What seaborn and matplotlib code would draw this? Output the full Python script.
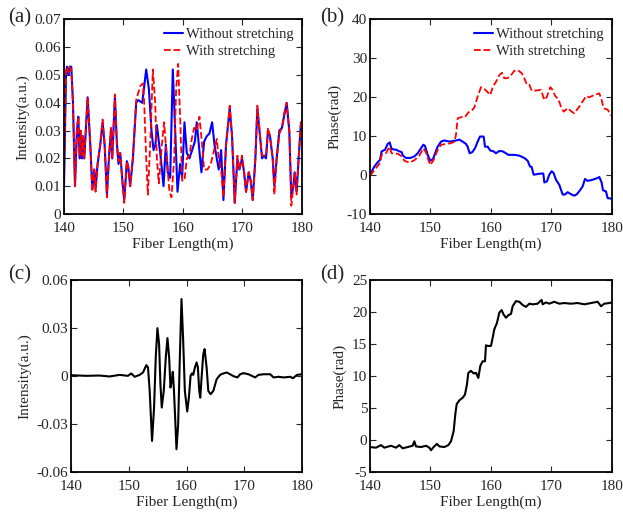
import numpy as np
import matplotlib
matplotlib.use("Agg")
import matplotlib.pyplot as plt
import seaborn as sns
from matplotlib.ticker import FuncFormatter

# (a) intensity, without / with stretching
a_blue_x = [140.0, 140.34, 140.5, 140.78, 140.95, 141.23, 141.51, 141.85, 142.18, 142.41, 142.63, 142.85, 143.02,
            143.19, 143.41, 143.97, 144.42, 144.76, 145.09, 145.31, 145.65, 146.1, 146.49, 146.83, 147.22, 147.55,
            147.89, 148.11, 148.56, 148.9, 149.17, 149.45, 149.85, 150.13, 150.57, 150.8, 151.13, 151.58, 152.14,
            152.48, 153.15, 153.82, 154.27, 154.71, 155.05, 155.38, 155.61, 155.89, 156.28, 156.73, 157.12, 157.45,
            157.85, 158.29, 158.69, 159.08, 159.52, 159.86, 160.25, 160.64, 161.09, 161.54, 161.99, 162.32, 162.66,
            163.1, 163.55, 164.0, 164.45, 164.9, 165.29, 165.68, 166.01, 166.41, 166.8, 167.24, 167.86, 168.25,
            168.7, 169.15, 169.48, 169.93, 170.27, 170.6, 171.05, 171.38, 171.72, 172.17, 172.5, 172.95, 173.29,
            173.62, 173.96, 174.29, 174.63, 175.08, 175.36, 175.75, 176.2, 176.64, 176.98, 177.43, 177.87, 178.21,
            178.55, 178.77, 179.1, 179.44, 179.83, 180.0]
a_blue_y = [0.010, 0.050, 0.053, 0.050, 0.053, 0.053, 0.040, 0.010, 0.030, 0.035, 0.020, 0.029, 0.020,
            0.028, 0.020, 0.042, 0.025, 0.009, 0.016, 0.009, 0.018, 0.025, 0.033, 0.025, 0.007, 0.020,
            0.030, 0.020, 0.042, 0.025, 0.018, 0.022, 0.011, 0.005, 0.019, 0.017, 0.010, 0.020, 0.040,
            0.041, 0.040, 0.052, 0.045, 0.030, 0.023, 0.025, 0.032, 0.027, 0.020, 0.010, 0.025, 0.015,
            0.013, 0.052, 0.030, 0.008, 0.018, 0.013, 0.033, 0.022, 0.020, 0.023, 0.026, 0.033, 0.025,
            0.015, 0.026, 0.028, 0.029, 0.033, 0.025, 0.020, 0.016, 0.023, 0.005, 0.025, 0.038, 0.028,
            0.004, 0.020, 0.016, 0.020, 0.015, 0.008, 0.015, 0.012, 0.005, 0.020, 0.038, 0.028, 0.020,
            0.021, 0.020, 0.030, 0.028, 0.020, 0.010, 0.020, 0.030, 0.031, 0.035, 0.040, 0.030, 0.006,
            0.010, 0.015, 0.008, 0.020, 0.033, 0.030]

a_red_x = [140.0, 140.34, 140.5, 140.78, 140.95, 141.23, 141.51, 141.85, 142.18, 142.41, 142.63, 142.85, 143.02,
           143.19, 143.41, 143.97, 144.42, 144.76, 145.09, 145.31, 145.65, 146.1, 146.49, 146.83, 147.22, 147.55,
           147.89, 148.11, 148.56, 148.9, 149.17, 149.45, 149.85, 150.13, 150.57, 150.8, 151.13, 151.58, 152.14,
           152.81, 153.26, 153.48, 153.82, 154.1, 154.49, 154.94, 155.33, 155.61, 155.94, 156.45, 156.84, 157.28,
           157.73, 158.07, 158.52, 158.85, 159.19, 159.52, 159.86, 160.25, 160.64, 161.09, 161.48, 161.87, 162.32,
           162.77, 163.21, 163.55, 164.11, 164.67, 165.23, 165.68, 166.01, 166.41, 166.8, 167.24, 167.86, 168.25,
           168.7, 169.15, 169.48, 169.93, 170.27, 170.6, 171.05, 171.38, 171.72, 172.17, 172.5, 172.95, 173.29,
           173.62, 173.96, 174.29, 174.63, 175.08, 175.36, 175.75, 176.2, 176.64, 176.98, 177.43, 177.87, 178.21,
           178.55, 178.77, 179.1, 179.44, 179.83, 180.0]
a_red_y = [0.012, 0.051, 0.053, 0.051, 0.053, 0.052, 0.040, 0.010, 0.031, 0.035, 0.021, 0.030, 0.021,
           0.028, 0.020, 0.042, 0.025, 0.008, 0.016, 0.008, 0.018, 0.025, 0.034, 0.025, 0.006, 0.020,
           0.031, 0.020, 0.043, 0.025, 0.019, 0.022, 0.011, 0.004, 0.019, 0.017, 0.010, 0.020, 0.041,
           0.046, 0.047, 0.040, 0.020, 0.007, 0.025, 0.052, 0.040, 0.020, 0.011, 0.025, 0.033, 0.020,
           0.008, 0.006, 0.020, 0.045, 0.054, 0.035, 0.012, 0.012, 0.020, 0.021, 0.027, 0.031, 0.030,
           0.035, 0.025, 0.016, 0.016, 0.018, 0.023, 0.027, 0.020, 0.016, 0.006, 0.025, 0.039, 0.028,
           0.004, 0.021, 0.016, 0.021, 0.015, 0.008, 0.015, 0.012, 0.005, 0.020, 0.039, 0.028, 0.021,
           0.021, 0.021, 0.031, 0.028, 0.020, 0.007, 0.020, 0.029, 0.031, 0.036, 0.040, 0.030, 0.003,
           0.010, 0.015, 0.007, 0.020, 0.033, 0.030]

# (b) phase, without / with stretching
b_blue_x = [140.0, 140.72, 141.27, 141.65, 141.93, 142.48, 142.92, 143.25, 143.58, 144.35, 144.85, 145.23, 145.45,
            145.95, 146.67, 147.33, 147.88, 148.43, 148.82, 149.09, 149.53, 149.97, 150.41, 150.74, 151.18, 151.74,
            152.29, 153.11, 153.94, 154.77, 155.32, 155.87, 156.14, 156.47, 156.91, 157.36, 157.8, 158.18, 158.79,
            159.01, 159.45, 159.89, 160.44, 160.83, 161.38, 161.93, 162.48, 162.87, 163.86, 164.68, 165.51, 166.06,
            166.45, 166.72, 167.05, 168.26, 168.65, 168.82, 169.26, 169.64, 170.03, 170.36, 170.74, 171.29, 171.85,
            172.23, 172.67, 173.33, 173.77, 174.21, 174.77, 175.15, 175.54, 175.98, 176.8, 177.52, 177.91, 178.29,
            178.51, 179.01, 179.28, 180.0]
b_blue_y = [0.1, 2.2, 3.3, 3.9, 6.1, 6.5, 8.0, 8.4, 6.7, 6.5, 6.1, 5.9, 5.0,
            4.4, 4.4, 4.8, 5.6, 6.9, 7.8, 7.5, 5.2, 3.7, 4.1, 5.5, 7.3, 8.6,
            8.9, 8.6, 8.8, 9.1, 8.6, 8.0, 7.3, 5.6, 5.9, 6.9, 8.6, 9.9, 9.9,
            7.3, 7.3, 6.3, 6.1, 5.6, 6.2, 6.1, 5.6, 5.2, 5.2, 5.0, 4.4, 3.7,
            2.2, 2.1, 0.1, 0.4, 0.4, -1.9, -1.6, 0.1, 1.0, 0.5, -1.2, -2.5, -5.0,
            -5.0, -4.4, -5.0, -5.3, -4.9, -3.8, -2.9, -1.0, -1.5, -1.2, -0.8, -0.5, -1.9,
            -3.9, -4.2, -5.9, -6.1]

b_red_x = [140.0, 140.99, 141.65, 141.93, 142.64, 143.2, 143.58, 144.57, 145.23, 145.67, 146.5, 147.33, 148.15,
           148.82, 149.26, 149.64, 149.97, 150.52, 151.07, 151.74, 152.56, 153.39, 153.94, 154.21, 154.49, 155.32,
           155.7, 156.25, 156.8, 157.25, 157.8, 158.35, 158.9, 159.34, 159.89, 160.28, 160.83, 161.38, 161.82,
           162.2, 162.75, 163.31, 163.86, 164.41, 165.07, 165.51, 165.95, 166.34, 166.72, 167.27, 168.26, 168.82,
           169.26, 169.81, 170.19, 170.63, 171.13, 171.57, 172.01, 172.67, 173.33, 173.77, 174.6, 175.32, 175.7,
           176.25, 177.08, 177.91, 178.29, 178.62, 179.28, 180.0]
b_red_y = [-0.2, 1.8, 3.1, 5.2, 5.6, 7.3, 5.6, 5.5, 4.8, 3.7, 3.2, 3.8, 5.0,
           6.9, 5.8, 3.9, 2.6, 3.9, 6.1, 7.8, 8.0, 8.2, 8.6, 10.3, 14.6, 15.0,
           14.9, 16.1, 16.5, 17.4, 20.2, 22.6, 22.1, 21.5, 20.6, 22.6, 24.0, 25.7, 26.3,
           24.9, 24.9, 25.7, 26.8, 27.0, 26.2, 24.9, 23.2, 23.2, 21.7, 21.7, 21.9, 19.3,
           20.2, 22.6, 21.9, 20.3, 19.5, 17.6, 16.3, 17.2, 16.3, 15.9, 17.6, 19.3, 20.3,
           20.0, 20.6, 21.0, 19.3, 17.2, 16.8, 15.1]

# (c) intensity difference
c_x = [140.0, 142.61, 144.93, 146.67, 148.41, 149.86, 150.43, 151.01, 151.88, 152.46, 153.04, 153.33, 153.62,
       154.03, 154.38, 154.67, 154.96, 155.25, 155.48, 155.71, 156.06, 156.41, 156.7, 156.99, 157.22, 157.45,
       157.62, 157.8, 158.03, 158.26, 158.55, 158.84, 159.13, 159.42, 159.71, 160.12, 160.41, 160.7, 160.93,
       161.16, 161.45, 161.74, 161.97, 162.2, 162.38, 162.61, 162.9, 163.13, 163.48, 163.77, 164.17, 164.64,
       165.22, 165.8, 166.38, 166.96, 167.54, 168.12, 168.81, 169.28, 169.86, 170.72, 171.3, 171.88, 172.46,
       173.33, 174.49, 175.07, 175.94, 176.81, 177.97, 178.43, 179.13, 180.0]
c_y = [0.0005, 0.0001, 0.0003, -0.0003, 0.0007, 0.0001, 0.0016, -0.0005, 0.0007, 0.0022, 0.0068, 0.0053, -0.0093,
       -0.0406, -0.0197, 0.0116, 0.0299, 0.0199, -0.0051, -0.0197, -0.0093, 0.0116, 0.0237, 0.0116, -0.0072, -0.003,
       0.0026, -0.0072, -0.026, -0.0458, -0.0302, 0.0116, 0.0481, 0.022, -0.0093, -0.0222, -0.0135, 0.0001, 0.0016,
       0.0007, 0.0053, 0.0085, 0.0053, -0.0093, -0.0135, -0.0009, 0.0137, 0.0168, 0.0053, -0.0093, -0.0114, -0.0093,
       -0.002, 0.0007, 0.0016, 0.0022, 0.0011, -0.0001, -0.0009, 0.0011, 0.0018, 0.0011, 0.0001, -0.0009, 0.0007,
       0.0011, 0.0011, -0.0009, -0.0005, -0.0009, -0.0005, -0.0014, 0.0007, 0.0011]

# (d) phase difference
d_x = [140.0, 140.99, 141.82, 142.37, 143.47, 144.3, 144.85, 145.4, 146.23, 147.05, 147.33, 147.6, 148.43,
       149.26, 149.81, 150.08, 150.52, 151.07, 151.46, 152.29, 152.95, 153.39, 153.83, 154.1, 154.33, 154.77,
       155.32, 155.7, 156.03, 156.25, 156.69, 157.13, 157.52, 157.91, 158.24, 158.62, 159.01, 159.17, 159.45,
       160.0, 160.28, 160.55, 160.99, 161.38, 161.76, 162.09, 162.48, 162.87, 163.31, 163.58, 164.13, 164.68,
       165.23, 165.79, 166.34, 166.89, 167.71, 168.37, 168.54, 169.09, 169.64, 170.47, 171.29, 172.12, 173.22,
       174.33, 175.43, 176.53, 177.63, 178.18, 178.73, 179.56, 180.0]
d_y = [-1.1, -1.2, -0.8, -1.2, -0.9, -1.2, -0.8, -1.3, -1.1, -0.9, -0.2, -1.0, -1.1,
       -0.9, -1.2, -1.6, -1.1, -0.6, -1.0, -1.1, -0.8, -0.2, 1.4, 4.0, 5.6, 6.2,
       6.6, 7.1, 8.7, 10.5, 10.8, 10.4, 10.5, 9.7, 11.6, 12.3, 12.3, 14.8, 14.7,
       14.7, 16.0, 17.3, 18.3, 19.9, 20.3, 19.6, 19.1, 19.5, 19.7, 20.9, 21.7, 21.6,
       21.1, 20.8, 21.3, 21.2, 21.3, 21.9, 21.2, 21.5, 21.3, 21.6, 21.3, 21.4, 21.3,
       21.4, 21.2, 21.4, 21.6, 20.9, 21.3, 21.4, 21.5]

sns.set_style("ticks")
plt.rcParams["font.family"] = ["Liberation Serif", "DejaVu Serif"]
plt.rcParams["font.size"] = 11

fig = plt.figure(figsize=(6.23, 5.15), dpi=100)
ax_a = fig.add_axes([0.1027, 0.5845, 0.382, 0.3777])
ax_b = fig.add_axes([0.5939, 0.5845, 0.3884, 0.3777])
ax_c = fig.add_axes([0.114, 0.0835, 0.3708, 0.3728])
ax_d = fig.add_axes([0.5939, 0.0835, 0.3884, 0.3728])

fmt = FuncFormatter(lambda v, p: "%g" % round(v, 4))

sns.lineplot(x=a_blue_x, y=a_blue_y, ax=ax_a, color="#0000ff", linewidth=1.5, label="Without stretching")
sns.lineplot(x=a_red_x, y=a_red_y, ax=ax_a, color="#ff0000", linewidth=1.3, linestyle="--", label="With stretching")
ax_a.set_ylim(0, 0.07)
ax_a.set_yticks(np.arange(0, 0.071, 0.01))
ax_a.set_ylabel("Intensity(a.u.)")

sns.lineplot(x=b_blue_x, y=b_blue_y, ax=ax_b, color="#0000ff", linewidth=1.5, label="Without stretching")
sns.lineplot(x=b_red_x, y=b_red_y, ax=ax_b, color="#ff0000", linewidth=1.3, linestyle="--", label="With stretching")
ax_b.set_ylim(-10, 40)
ax_b.set_yticks([-10, 0, 10, 20, 30, 40])
ax_b.set_ylabel("Phase(rad)")

sns.lineplot(x=c_x, y=c_y, ax=ax_c, color="black", linewidth=1.5)
ax_c.set_ylim(-0.06, 0.06)
ax_c.set_yticks([-0.06, -0.03, 0, 0.03, 0.06])
ax_c.set_ylabel("Intensity(a.u.)")

sns.lineplot(x=d_x, y=d_y, ax=ax_d, color="black", linewidth=1.5)
ax_d.set_ylim(-5, 25)
ax_d.set_yticks([-5, 0, 5, 10, 15, 20, 25])
ax_d.set_ylabel("Phase(rad)")

for ax in (ax_a, ax_b, ax_c, ax_d):
    ax.set_xlim(140, 180)
    ax.set_xticks([140, 150, 160, 170, 180])
    ax.set_xlabel("Fiber Length(m)", labelpad=2)
    ax.yaxis.set_major_formatter(fmt)
    ax.tick_params(direction="in", top=True, right=True, length=4, width=0.8, labelsize=11)
    ax.tick_params(axis="x", pad=5.5)
    ax.tick_params(axis="y", pad=2)
    for s in ax.spines.values():
        s.set_linewidth(1.3)
        s.set_color("black")

for ax in (ax_a, ax_b):
    ax.legend(loc="upper right", frameon=False, fontsize=10.5, handlelength=1.3, handletextpad=0.2,
              borderaxespad=0.2, labelspacing=0.25)

fig.text(0.032, 0.966, "(a)", fontsize=15, ha="center", va="center")
fig.text(0.534, 0.966, "(b)", fontsize=15, ha="center", va="center")
fig.text(0.032, 0.466, "(c)", fontsize=15, ha="center", va="center")
fig.text(0.534, 0.466, "(d)", fontsize=15, ha="center", va="center")

fig.savefig("out.png", dpi=100)
